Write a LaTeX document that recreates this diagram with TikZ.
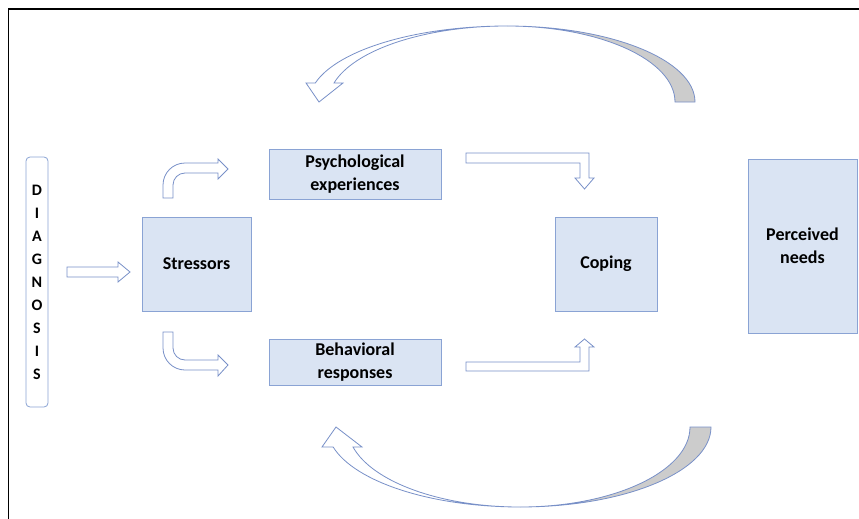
\documentclass[tikz,border=0pt]{standalone}
\usepackage{fontspec}
\setmainfont{Carlito}
\begin{document}
\begin{tikzpicture}[x=1pt,y=-1pt,
  box/.style={draw=boxline,fill=boxfill,line width=0.8pt,inner sep=0pt,align=center,font=\bfseries\fontsize{18}{23}\selectfont},
  blockarrow/.style={draw=arrowline,fill=white,line width=0.8pt,line join=miter},
  grayband/.style={draw=arrowline,fill=bandgray,line width=0.8pt}]
\definecolor{boxline}{HTML}{8AA3D4}
\definecolor{boxfill}{HTML}{DAE4F3}
\definecolor{arrowline}{HTML}{7890C8}
\definecolor{bandgray}{HTML}{CCCCCC}
\useasboundingbox (0,0) rectangle (859,519);
% frame
\draw[line width=1.1pt] (8.5,519) -- (8.5,9) -- (859,9);
% diagnosis
\node[draw=boxline,fill=white,line width=0.8pt,rounded corners=4pt,minimum width=22pt,minimum height=250pt,inner sep=0pt] (diag) at (37,282) {};
\foreach \l [count=\i] in {D,I,A,G,N,O,S,I,S}
  \node[font=\bfseries\fontsize{16}{16}\selectfont,inner sep=0pt] (d\i) at (37,{167+23*\i}) {\l};
% boxes
\node[box,minimum width=109pt,minimum height=94pt] (stress) at (196.5,264) {Stressors};
\node[box,minimum width=172pt,minimum height=50pt] (psych) at (355,174) {Psychological\\experiences};
\node[box,minimum width=172pt,minimum height=46pt] (behav) at (355,362) {Behavioral\\responses};
\node[box,minimum width=102pt,minimum height=94pt] (coping) at (606,264) {Coping};
\node[box,minimum width=109pt,minimum height=174pt] (needs) at (802.5,246) {Perceived\\needs};
% diagnosis -> stressors
\draw[blockarrow] (67,267) -- (118,267) -- (118,262) -- (130,272) -- (118,282) -- (118,277) -- (67,277) -- cycle;
% stressors -> psych (bent up)
\draw[blockarrow] (163,198) -- (163,185) arc[start angle=180,end angle=270,radius=22] -- (218,163) -- (218,159) -- (228,169) -- (218,179) -- (218,173) -- (185,173) arc[start angle=270,end angle=180,radius=12] -- (173,198) -- cycle;
% stressors -> behav (bent down)
\draw[blockarrow] (163,332) -- (163,348) arc[start angle=180,end angle=90,radius=22] -- (218,370) -- (218,376) -- (228,365) -- (218,355) -- (218,360) -- (185,360) arc[start angle=90,end angle=180,radius=12] -- (173,332) -- cycle;
% psych -> coping
\draw[blockarrow] (466,153) -- (589,153) -- (589,178) -- (594,178) -- (584.5,189) -- (575,178) -- (580,178) -- (580,163) -- (466,163) -- cycle;
% behav -> coping
\draw[blockarrow] (466,371) -- (589,371) -- (589,347) -- (594,347) -- (584.5,339) -- (575,347) -- (580,347) -- (580,362) -- (466,362) -- cycle;
% top curved arrow
\draw[grayband] (695,102) arc[start angle=0,end angle=-90,x radius=188,y radius=76] arc[start angle=-90,end angle=0,x radius=168,y radius=76] -- cycle;
\draw[blockarrow] (507,26) arc[start angle=-90,end angle=-165.52,x radius=198,y radius=76] -- (306,83) -- (319,102) -- (343,83) -- (334,83) arc[start angle=-165.52,end angle=-90,x radius=178.7,y radius=76] -- cycle;
% bottom curved arrow
\draw[grayband] (711,427) arc[start angle=0,end angle=90,x radius=191,y radius=80] arc[start angle=90,end angle=0,x radius=170,y radius=80] -- cycle;
\draw[blockarrow] (520,507) arc[start angle=90,end angle=165.52,x radius=193,y radius=80] -- (322,447) -- (336,427) -- (362,447) -- (353,447) arc[start angle=165.52,end angle=90,x radius=172.5,y radius=80] -- cycle;
\end{tikzpicture}
\end{document}
